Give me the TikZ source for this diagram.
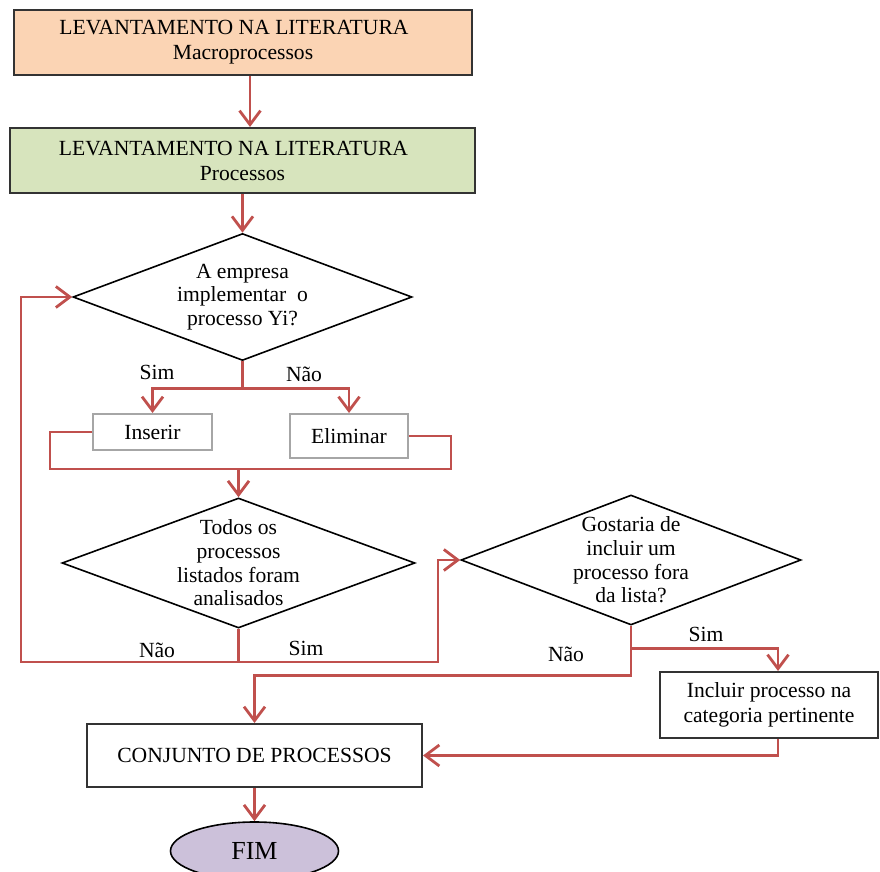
\documentclass[tikz,border=0pt]{standalone}
\usepackage{fontspec}
\setmainfont{Liberation Serif}
\usepackage{xcolor}
\usepackage{tikz}
\usetikzlibrary{shapes.geometric, arrows.meta, positioning, calc}

\definecolor{linkred}{HTML}{C0504D}
\definecolor{peach}{HTML}{FBD4B4}
\definecolor{sage}{HTML}{D7E4BD}
\definecolor{lilac}{HTML}{CCC1DA}

\begin{document}
\begin{tikzpicture}[
    x=0.5pt, y=-0.5pt,
    every node/.style={color=black, font=\fontsize{10.8}{12.5}\selectfont},
    box/.style={draw=black!80, line width=1pt, rectangle, align=center, inner sep=2pt},
    softbox/.style={draw=black!35, line width=1pt, rectangle, align=center, inner sep=2pt},
    choice/.style={draw=black, line width=0.8pt, diamond, inner sep=0pt},
    ask/.style={align=center, inner sep=0pt, font=\fontsize{10.8}{11.8}\selectfont},
    annot/.style={inner sep=1pt},
    arrow/.style={-{Straight Barb[length=7pt, width=10.5pt]}, color=linkred, line width=1.4pt},
    link/.style={color=linkred, line width=1.4pt},
]
\useasboundingbox (0,0) rectangle (880,872);

% =========================================================
% TOP: literature survey blocks
% =========================================================
\node[box, fill=peach, minimum width=229pt, minimum height=32.5pt] (macro) at (243,42.5)
    {LEVANTAMENTO NA LITERATURA\hspace*{9pt}\\Macroprocessos};
\node[box, fill=sage, minimum width=232.5pt, minimum height=32.5pt] (lit) at (242.5,160.5)
    {LEVANTAMENTO NA LITERATURA\hspace*{9pt}\\Processos};

% =========================================================
% MIDDLE: per-process decision and the check over the list
% =========================================================
\node[choice, minimum width=169.5pt, minimum height=63.5pt,
      label={[ask]center:{A empresa\\implementar\ \ o\\processo Yi?}}] (q1) at (242.5,297) {};

\node[softbox, minimum width=59.5pt, minimum height=18pt] (ins) at (152.5,432) {Inserir};
\node[softbox, minimum width=59pt, minimum height=22pt] (eli) at (349,436) {Eliminar};

\node[choice, minimum width=176.5pt, minimum height=65pt,
      label={[ask]center:{Todos os\\processos\\listados foram\\analisados}}] (q2) at (238.5,563) {};

% Extra process outside the list
\node[choice, minimum width=170pt, minimum height=65pt,
      label={[ask]center:{Gostaria de\\incluir um\\processo fora\\da lista?}}] (q3) at (631,560) {};

\node[box, minimum width=109pt, minimum height=33pt] (inc) at (769,705)
    {Incluir processo na\\categoria pertinente};

% =========================================================
% BOTTOM: resulting set and end
% =========================================================
\node[box, minimum width=167.5pt, minimum height=31.5pt] (conj) at (254.5,755.5)
    {CONJUNTO DE PROCESSOS};
\node[ellipse, draw=black, line width=0.8pt, fill=lilac, minimum width=84pt, minimum height=29pt,
      font=\fontsize{13}{15}\selectfont] (fim) at (254.5,851) {FIM};

% branch labels
\node[annot] (yes1) at (157,372) {Sim};
\node[annot] (no1)  at (304,374) {Não};
\node[annot] (no2)  at (157,650) {Não};
\node[annot] (yes2) at (306,648) {Sim};
\node[annot] (no3)  at (566,654) {Não};
\node[annot] (yes3) at (706,634) {Sim};

% =========================================================
% ARROWS
% =========================================================
\draw[arrow] ([xshift=3.5pt]macro.south) -- ([xshift=3.5pt]macro.south |- lit.north);
\draw[arrow] (lit.south) -- (q1.north);

% Sim / Nao split under the first question
\draw[arrow] (q1.south) -- ++(0,27) -| (ins.north);
\draw[arrow] (q1.south) -- ++(0,27) -| (eli.north);

% both outcomes join again above the list check
\coordinate (j1) at (q2.north |- 0,469);
\draw[link] (ins.west) -- ++(-42,0) |- (j1);
\draw[link] (eli.east) -- ++(42,0) |- (j1);
\draw[arrow] (j1) -- (q2.north);

% Nao: back to the first question, Sim: on to the extra question
\coordinate (j2) at (q2.south |- 0,662);
\draw[link] (q2.south) -- (j2);
\draw[arrow] (j2) -- ++(-217.5,0) |- (q1.west);
\draw[arrow] (j2) -- ++(199.5,0) |- (q3.west);

\draw[arrow] (q3.south) -- ++(0,50) -| (conj.north);
\draw[arrow] (q3.south) -- ++(0,23) -| ([xshift=4.5pt]inc.north);
\draw[arrow] ([xshift=4.5pt]inc.south) |- (conj.east);
\draw[arrow] (conj.south) -- (fim.north);

\end{tikzpicture}
\end{document}
